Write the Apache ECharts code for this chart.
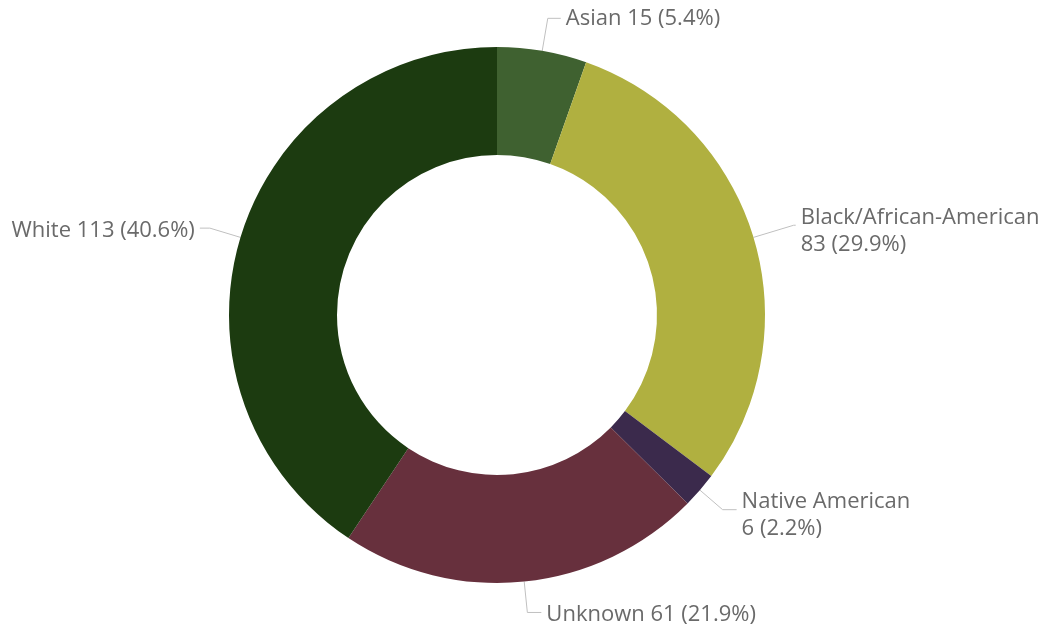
<!DOCTYPE html>
<html><head><meta charset="utf-8">
<script src="https://cdn.jsdelivr.net/npm/echarts@6/dist/echarts.min.js"></script>
<style>html,body{margin:0;padding:0;background:#fff}#c{width:1062px;height:629px}</style>
</head><body><div id="c"></div>
<script>
const categories = ['Asian', 'Black/African-American', 'Native American', 'Unknown', 'White'];
const values = [15, 83, 6, 61, 113];
const colors = ['#3f6130', '#b0b040', '#3b2a4c', '#67303d', '#1c3b10'];
const twoLine = [false, true, true, false, false];

const total = values.reduce((a, b) => a + b, 0);
const lineLen = [33, 42, 30, 31, 32];
const lineLen2 = [13, 2, 14, 14, 10];
const spacer = [0, 12, 12, 4, 6];
const chart = echarts.init(document.getElementById('c'));
const baseText = { color: '#6a6a6a', fontSize: 22, fontFamily: 'Open Sans', lineHeight: 27 };
chart.setOption({
  animation: false,
  series: [{
    type: 'pie',
    center: [497, 315],
    radius: [160, 268],
    startAngle: 90,
    clockwise: true,
    avoidLabelOverlap: false,
    itemStyle: { borderWidth: 0 },
    label: Object.assign({
      show: true,
      position: 'outside',
      formatter: function (p) {
        const i = p.dataIndex;
        const pct = (p.value / total * 100).toFixed(1);
        const txt = p.name + (twoLine[i] ? '\n' : ' ') + p.value + ' (' + pct + '%)';
        return (spacer[i] ? '{s' + i + '| }\n' : '') + txt;
      },
      rich: Object.fromEntries(spacer.map((h, i) => ['s' + i, { fontSize: 1, lineHeight: h || 1 }]))
    }, baseText),
    labelLine: { show: true, lineStyle: { color: '#c0c0c0', width: 1 } },
    emphasis: { disabled: true },
    data: categories.map((c, i) => ({
      name: c, value: values[i], itemStyle: { color: colors[i] },
      labelLine: { length: lineLen[i], length2: lineLen2[i] }
    }))
  }]
});
</script></body></html>
